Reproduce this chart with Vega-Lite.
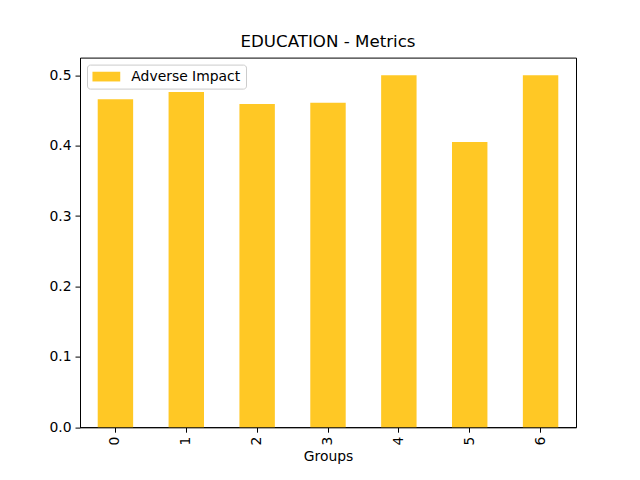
{
  "$schema": "https://vega.github.io/schema/vega-lite/v6.json",
  "autosize": "none",
  "width": 496,
  "height": 369.6,
  "padding": {"left": 80, "top": 57.6, "right": 64, "bottom": 52.8},
  "background": "white",
  "title": {
    "text": "EDUCATION - Metrics",
    "font": "DejaVu Sans",
    "fontSize": 16.67,
    "fontWeight": "normal",
    "color": "black",
    "offset": 7,
    "anchor": "middle"
  },
  "data": {
    "values": [
      {"group": "0", "value": 0.466},
      {"group": "1", "value": 0.476},
      {"group": "2", "value": 0.459},
      {"group": "3", "value": 0.461},
      {"group": "4", "value": 0.5},
      {"group": "5", "value": 0.405},
      {"group": "6", "value": 0.5}
    ]
  },
  "mark": {"type": "bar"},
  "encoding": {
    "x": {
      "field": "group",
      "type": "ordinal",
      "title": "Groups",
      "scale": {"paddingInner": 0.5, "paddingOuter": 0.25},
      "axis": {"labelAngle": -90, "labelAlign": "right", "labelBaseline": "middle"}
    },
    "y": {
      "field": "value",
      "type": "quantitative",
      "title": null,
      "scale": {"domain": [0, 0.525], "nice": false},
      "axis": {"values": [0, 0.1, 0.2, 0.3, 0.4, 0.5], "format": ".1f"}
    },
    "color": {
      "datum": "Adverse Impact",
      "scale": {"range": ["#ffc825"]},
      "legend": {
        "title": null,
        "orient": "top-left",
        "offset": 7,
        "symbolType": "M-2,-0.7H2V0.7H-2Z",
        "symbolSize": 193,
        "symbolOffset": 7.35,
        "symbolStrokeWidth": 0,
        "symbolOpacity": 1,
        "labelFont": "DejaVu Sans",
        "labelFontSize": 13.9,
        "labelColor": "black",
        "labelOffset": 18,
        "padding": 5,
        "fillColor": "rgba(255,255,255,0.8)",
        "strokeColor": "#cccccc",
        "cornerRadius": 3
      }
    }
  },
  "config": {
    "view": {"stroke": "black", "strokeWidth": 1},
    "axis": {
      "grid": false,
      "domainColor": "black",
      "tickColor": "black",
      "tickSize": 5,
      "labelPadding": 4,
      "labelFont": "DejaVu Sans",
      "labelFontSize": 13.9,
      "labelColor": "black",
      "titleFont": "DejaVu Sans",
      "titleFontSize": 13.9,
      "titleFontWeight": "normal",
      "titleColor": "black",
      "titlePadding": 4
    }
  }
}
